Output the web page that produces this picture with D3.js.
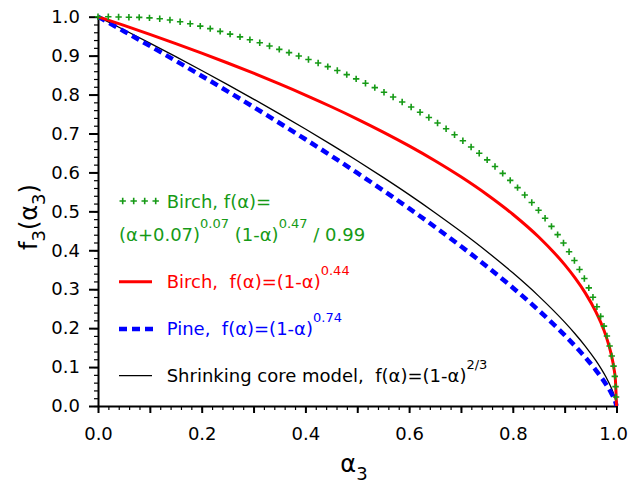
<!DOCTYPE html>
<html><head><meta charset="utf-8">
<script src="https://cdn.jsdelivr.net/npm/d3@7"></script>
<style>
body{margin:0;background:#fff}
svg{display:block}
text{font-family:"DejaVu Sans",Verdana,sans-serif;white-space:pre}
</style>
</head><body>
<svg id="chart" width="628" height="483"></svg>
<script>
// ---- data ----
const alphaGrid = [0, 0.05, 0.1, 0.15, 0.2, 0.25, 0.3, 0.35, 0.4, 0.45, 0.5, 0.55, 0.6, 0.65, 0.7, 0.75, 0.8, 0.85, 0.9, 0.92, 0.94, 0.96, 0.97, 0.98, 0.99, 0.995, 0.998, 1.0];
const birchPower = [1, 0.9777, 0.9547, 0.9310, 0.9065, 0.8811, 0.8548, 0.8273, 0.7987, 0.7687, 0.7371, 0.7037, 0.6682, 0.6301, 0.5888, 0.5434, 0.4926, 0.4340, 0.3631, 0.3291, 0.2900, 0.2426, 0.2138, 0.1788, 0.1318, 0.0972, 0.0649, 0];
const pinePower = [1, 0.9628, 0.9250, 0.8867, 0.8478, 0.8083, 0.7680, 0.7270, 0.6852, 0.6425, 0.5987, 0.5538, 0.5076, 0.4599, 0.4103, 0.3585, 0.3039, 0.2456, 0.1820, 0.1543, 0.1247, 0.0924, 0.0747, 0.0553, 0.0331, 0.0198, 0.0101, 0];
const shrinkingCore = [1, 0.9664, 0.9322, 0.8973, 0.8618, 0.8255, 0.7884, 0.7504, 0.7114, 0.6713, 0.6300, 0.5872, 0.5429, 0.4966, 0.4481, 0.3969, 0.3420, 0.2823, 0.2154, 0.1857, 0.1533, 0.1170, 0.0966, 0.0737, 0.0464, 0.0292, 0.0159, 0];
const birchFull = [1.0, 0.999, 0.997, 0.989, 0.975, 0.957, 0.938, 0.916, 0.893, 0.868, 0.839, 0.807, 0.771, 0.731, 0.685, 0.633, 0.573, 0.502, 0.414, 0.371, 0.322, 0.262, 0.228, 0.187, 0.134, 0.095, 0.055, 0.0];
const xTickLabels = [0, 0.2, 0.4, 0.6, 0.8, 1.0];
const yTickLabels = [0, 0.1, 0.2, 0.3, 0.4, 0.5, 0.6, 0.7, 0.8, 0.9, 1.0];

// ---- layout ----
const svg = d3.select("#chart");
const x = d3.scaleLinear().domain([0, 1]).range([98, 616.5]);
const y = d3.scaleLinear().domain([0, 1]).range([406, 16.7]);
const GREEN = "#169a16", RED = "#ff0000", BLUE = "#0000ff";
const fmt = d3.format(".1f");

const xMinor = d3.range(0, 1.0001, 0.02);
const yMinor = d3.range(0, 1.0001, 0.02);
const xMajor = d3.range(0, 1.0001, 0.1);

svg.append("g").attr("transform", `translate(0,${y(0)})`)
  .call(d3.axisBottom(x).tickValues(xMinor).tickSize(4).tickSizeOuter(0).tickFormat(""))
  .call(g => { g.select(".domain").remove(); g.selectAll("line").attr("stroke", "#000").attr("stroke-width", 1.2); });
svg.append("g").attr("transform", `translate(${x(0)},0)`)
  .call(d3.axisLeft(y).tickValues(yMinor).tickSize(4).tickSizeOuter(0).tickFormat(""))
  .call(g => { g.select(".domain").remove(); g.selectAll("line").attr("stroke", "#000").attr("stroke-width", 1.2); });

svg.append("g").attr("transform", `translate(0,${y(0)})`)
  .call(d3.axisBottom(x).tickValues(xMajor).tickSize(7).tickSizeOuter(0).tickPadding(14)
    .tickFormat(d => xTickLabels.some(v => Math.abs(v - d) < 1e-6) ? fmt(d) : ""))
  .call(g => {
    g.select(".domain").attr("stroke", "#000").attr("stroke-width", 2);
    g.selectAll("line").attr("stroke", "#000").attr("stroke-width", 2);
    g.selectAll("text").attr("font-size", 18).attr("fill", "#000").attr("font-family", '"DejaVu Sans",Verdana,sans-serif');
    g.selectAll("text").filter(d => Math.abs(d - 1) < 1e-6).attr("text-anchor", "end").attr("x", 11);
  });
svg.append("g").attr("transform", `translate(${x(0)},0)`)
  .call(d3.axisLeft(y).tickValues(yTickLabels).tickSize(9).tickSizeOuter(0).tickPadding(9).tickFormat(fmt))
  .call(g => {
    g.select(".domain").attr("stroke", "#000").attr("stroke-width", 2);
    g.selectAll("line").attr("stroke", "#000").attr("stroke-width", 2);
    g.selectAll("text").attr("font-size", 18).attr("fill", "#000").attr("font-family", '"DejaVu Sans",Verdana,sans-serif');
  });

// ---- curves ----
const line = d3.line().x(d => x(d[0])).y(d => y(d[1])).curve(d3.curveMonotoneX);
const pairs = arr => alphaGrid.map((a, i) => [a, arr[i]]);

svg.append("path").attr("d", line(pairs(shrinkingCore))).attr("fill", "none").attr("stroke", "#000").attr("stroke-width", 1.3);
svg.append("path").attr("d", line(pairs(pinePower))).attr("fill", "none").attr("stroke", BLUE).attr("stroke-width", 4.5).attr("stroke-dasharray", "8,5");
svg.append("path").attr("d", line(pairs(birchPower))).attr("fill", "none").attr("stroke", RED).attr("stroke-width", 3);

const gPath = svg.append("path").attr("d", line(pairs(birchFull))).attr("fill", "none").attr("stroke", "none");
const node = gPath.node();
const total = node.getTotalLength();
const marks = d3.range(0, total + 0.01, 10.3).map(l => node.getPointAtLength(l));
const plus = (sel, cx, cy, s) => sel.append("path")
  .attr("d", `M${cx - s},${cy}H${cx + s}M${cx},${cy - s}V${cy + s}`)
  .attr("stroke", GREEN).attr("stroke-width", 1.6).attr("fill", "none");
const mg = svg.append("g");
marks.forEach(p => plus(mg, p.x, p.y, 3.2));

// ---- legend ----
const leg = svg.append("g").attr("font-size", 18);
[122.7, 133.7, 144.7, 155.7].forEach(cx => plus(leg, cx, 201, 3.2));
leg.append("text").attr("x", 166.7).attr("y", 208).attr("fill", GREEN).text("Birch, f(α)=");
const t2 = leg.append("text").attr("x", 119).attr("y", 241).attr("fill", GREEN);
t2.append("tspan").text("(α+0.07)");
t2.append("tspan").attr("dy", -13).attr("font-size", 13).text("0.07");
t2.append("tspan").attr("dy", 13).text(" (1-α)");
t2.append("tspan").attr("dy", -13).attr("font-size", 13).text("0.47");
t2.append("tspan").attr("dy", 13).text(" / 0.99");

leg.append("line").attr("x1", 119).attr("x2", 152).attr("y1", 281.7).attr("y2", 281.7).attr("stroke", RED).attr("stroke-width", 3);
const t3 = leg.append("text").attr("x", 166.7).attr("y", 288).attr("fill", RED);
t3.append("tspan").text("Birch,  f(α)=(1-α)");
t3.append("tspan").attr("dy", -13).attr("font-size", 13).text("0.44");

leg.append("line").attr("x1", 119).attr("x2", 157).attr("y1", 329).attr("y2", 329).attr("stroke", BLUE).attr("stroke-width", 4.5).attr("stroke-dasharray", "8,5");
const t4 = leg.append("text").attr("x", 166.7).attr("y", 334.5).attr("fill", BLUE);
t4.append("tspan").text("Pine,  f(α)=(1-α)");
t4.append("tspan").attr("dy", -13).attr("font-size", 13).text("0.74");

leg.append("line").attr("x1", 119).attr("x2", 152).attr("y1", 375.7).attr("y2", 375.7).attr("stroke", "#000").attr("stroke-width", 1.3);
const t5 = leg.append("text").attr("x", 166.7).attr("y", 382).attr("fill", "#000");
t5.append("tspan").text("Shrinking core model,  f(α)=(1-α)");
t5.append("tspan").attr("dy", -13).attr("font-size", 13).text("2/3");

// ---- axis titles ----
const xt = svg.append("text").attr("x", 354).attr("y", 472).attr("text-anchor", "middle").attr("font-size", 24);
xt.append("tspan").text("α");
xt.append("tspan").attr("dy", 8).attr("font-size", 18).text("3");

const yt = svg.append("text").attr("transform", "translate(37,217) rotate(-90)").attr("text-anchor", "middle").attr("font-size", 24);
yt.append("tspan").text("f");
yt.append("tspan").attr("dy", 8).attr("font-size", 18).text("3");
yt.append("tspan").attr("dy", -8).text("(α");
yt.append("tspan").attr("dy", 8).attr("font-size", 18).text("3");
yt.append("tspan").attr("dy", -8).text(")");
</script>
</body></html>
